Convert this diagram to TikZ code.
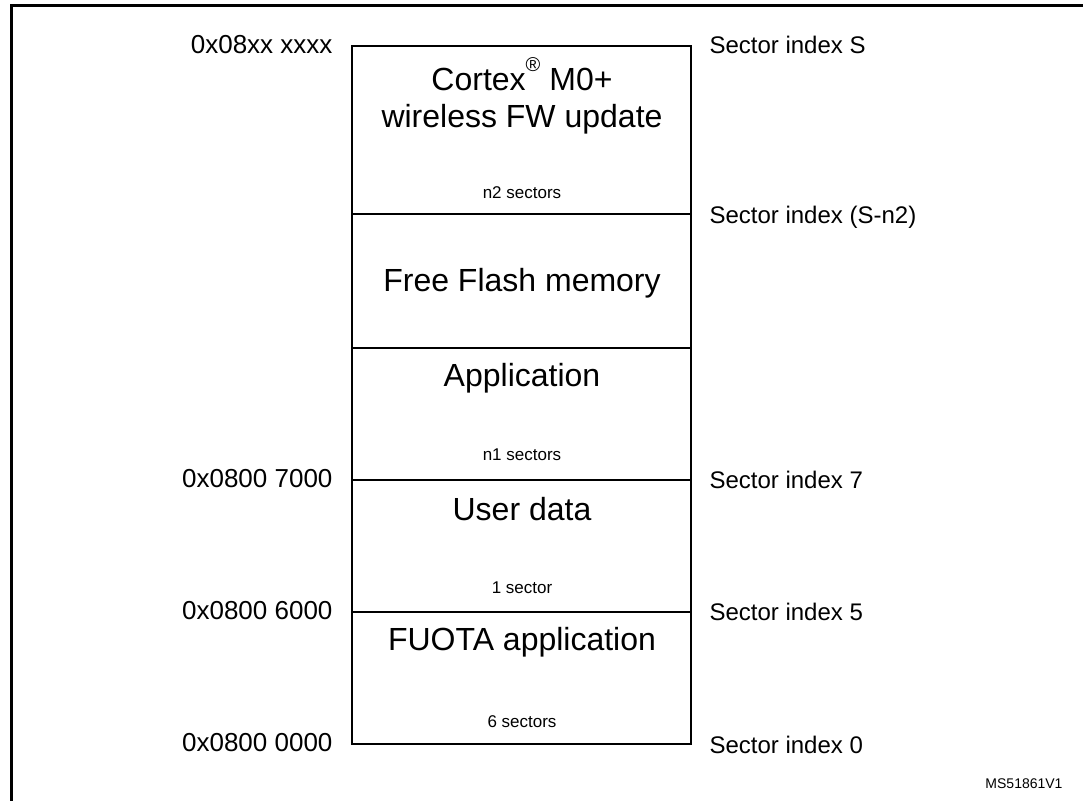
\documentclass[tikz,border=0pt]{standalone}
\usepackage{fontspec}
\setmainfont{Liberation Sans}
\usetikzlibrary{positioning}

\tikzset{
  addr/.style={anchor=east, font=\fontsize{26}{31}\selectfont},
  sect/.style={anchor=west, font=\fontsize{24}{29}\selectfont},
  blk/.style={font=\fontsize{32}{37}\selectfont, align=center},
  cnt/.style={font=\fontsize{17}{20}\selectfont},
}

\begin{document}
\begin{tikzpicture}[x=1pt,y=-1pt]
    \useasboundingbox (0,0) rectangle (1083,801);

    % outer frame
    \draw[line width=3pt] (1083,5) -- (11,5) -- (11,801);

    % block boundaries
    \coordinate (tS)  at (352,46);
    \coordinate (tN2) at (352,214);
    \coordinate (tFr) at (352,348);
    \coordinate (t7)  at (352,480);
    \coordinate (t5)  at (352,612);
    \coordinate (t0)  at (352,744);
    \coordinate (bR)  at (691,744);

    \draw[line width=2pt] (tS) rectangle (bR);
    \foreach \b in {tN2,tFr,t7,t5}
        \draw[line width=1.6pt] (\b) -- ++(339,0);

    % block contents
    \node[blk] (cortex) at (522,96) {Cortex\raisebox{1.1ex}{\fontsize{20}{22}\selectfont\textregistered} M0+\\wireless FW update};
    \node[cnt] (n2)     at (522,193) {n2 sectors};
    \node[blk] (free)   at (522,283) {Free Flash memory};
    \node[blk] (app)    at (522,378) {Application};
    \node[cnt] (n1)     at (522,455) {n1 sectors};
    \node[blk] (udata)  at (522,509) {User data};
    \node[cnt] (one)    at (522,588) {1 sector};
    \node[blk] (fuota)  at (522,642) {FUOTA application};
    \node[cnt] (six)    at (522,722) {6 sectors};

    % addresses
    \node[addr] (aS) at (336,45)  {0x08xx xxxx};
    \node[addr] (a7) at (336,479) {0x0800 7000};
    \node[addr] (a6) at (336,611) {0x0800 6000};
    \node[addr] (a0) at (336,743) {0x0800 0000};

    % sector indexes
    \node[sect] (sS)  at (706,45)  {Sector index S};
    \node[sect] (sN2) at (706,217) {Sector index (S-n2)};
    \node[sect] (s7)  at (706,480) {Sector index 7};
    \node[sect] (s5)  at (706,612) {Sector index 5};
    \node[sect] (s0)  at (706,745) {Sector index 0};

    \node[font=\fontsize{14}{16}\selectfont] (ref) at (1024,784) {MS51861V1};
\end{tikzpicture}
\end{document}
